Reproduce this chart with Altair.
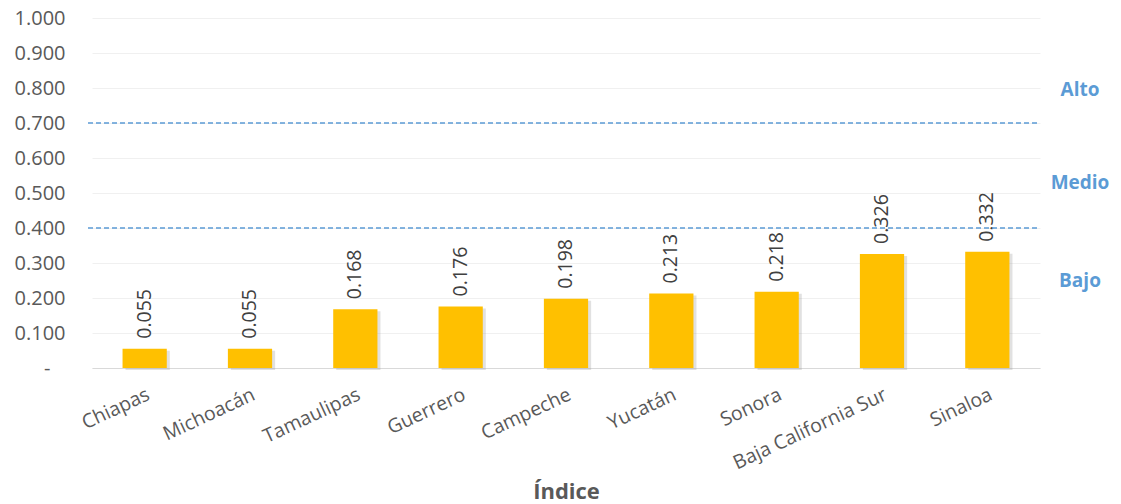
import altair as alt
import pandas as pd

states = ["Chiapas", "Michoacán", "Tamaulipas", "Guerrero", "Campeche",
          "Yucatán", "Sonora", "Baja California Sur", "Sinaloa"]
values = [0.055, 0.055, 0.168, 0.176, 0.198, 0.213, 0.218, 0.326, 0.332]
y_ticks = [0.0, 0.1, 0.2, 0.3, 0.4, 0.5, 0.6, 0.7, 0.8, 0.9, 1.0]
thresholds = [0.4, 0.7]
levels = ["Alto", "Medio", "Bajo"]
level_pos = [0.795, 0.53, 0.25]

df = pd.DataFrame({"state": states, "value": values})
df_t = pd.DataFrame({"t": thresholds})
df_l = pd.DataFrame({"level": levels, "pos": level_pos})

FONT = "Open Sans"
GRAY = "#595959"
BLUE = "#5B9BD5"

x_axis = alt.Axis(
    title="Índice", titleFont=FONT, titleFontSize=22, titleFontWeight="bold",
    titleColor=GRAY, titleY=130, titleBaseline="alphabetic",
    labelAngle=-25, labelAlign="right", labelBaseline="top",
    labelPadding=17, labelFont=FONT, labelFontSize=19.5, labelColor=GRAY,
    labelOverlap=False, labelLimit=0,
    ticks=False, domainColor="#D9D9D9", domainWidth=1.2, grid=False,
)
y_axis = alt.Axis(
    title=None, values=y_ticks,
    labelExpr="datum.value == 0 ? '-' : format(datum.value, '.3f')",
    labelFont=FONT, labelFontSize=20, labelColor=GRAY,
    labelPadding={"condition": {"test": "datum.value == 0", "value": 42}, "value": 27},
    labelOverlap=False, labelFlush=False,
    domain=False, ticks=False, gridColor="#F0F0F0", gridWidth=1,
)
x_scale = alt.Scale(paddingInner=0.58, paddingOuter=0.29)
y_scale = alt.Scale(domain=[0, 1])

x_enc = alt.X("state:N", sort=states, scale=x_scale, axis=x_axis)
y_enc = alt.Y("value:Q", scale=y_scale, axis=y_axis)

base = alt.Chart(df)

shadow = base.mark_bar(color="#9A9A9A", opacity=0.3, xOffset=3, yOffset=2).encode(
    x=x_enc, y=y_enc
)
bars = base.mark_bar(color="#FFC000").encode(x=x_enc, y=y_enc)
labels = base.mark_text(
    angle=270, align="left", baseline="middle", dx=10,
    font=FONT, fontSize=19.5, color="#404040"
).encode(x=x_enc, y=y_enc, text=alt.Text("value:Q", format=".3f"))

rules = alt.Chart(df_t).mark_rule(
    color=BLUE, strokeDash=[5, 3], strokeWidth=1.5
).encode(y=alt.Y("t:Q", scale=y_scale, axis=y_axis), x=alt.value(-4), x2=alt.value(948))

level_text = alt.Chart(df_l).mark_text(
    color=BLUE, font=FONT, fontSize=19, fontWeight="bold", align="center",
    baseline="middle"
).encode(y=alt.Y("pos:Q", scale=y_scale, axis=y_axis), text="level:N", x=alt.value(988))

chart = alt.layer(shadow, bars, labels, rules, level_text).properties(
    width=948, height=350,
    autosize=alt.AutoSizeParams(type="none"),
    padding={"left": 84, "top": 10, "right": 73, "bottom": 136},
).configure_view(stroke=None)

chart.save("out.html", embed_options={"renderer": "svg", "actions": False})
